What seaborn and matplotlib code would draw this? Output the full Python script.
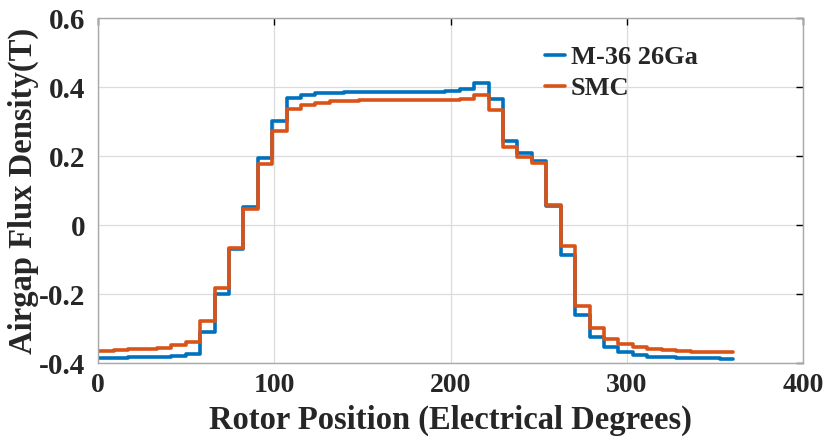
import numpy as np
import pandas as pd
import matplotlib
matplotlib.use("Agg")
import matplotlib.pyplot as plt
import seaborn as sns
from matplotlib.ticker import FuncFormatter

# Start angle of each slot-pitch step (electrical degrees); last entry closes the final step
angle = [0.0, 8.8, 17.0, 25.1, 33.3, 41.5, 49.7, 57.9, 66.1, 74.2, 82.4, 90.6,
         98.8, 107.0, 115.2, 123.4, 131.6, 139.8, 147.9, 156.1, 164.3, 172.5,
         180.7, 188.9, 197.1, 205.3, 213.5, 221.6, 229.8, 238.0, 246.2, 254.4,
         262.6, 270.8, 279.0, 287.2, 295.3, 303.5, 311.7, 319.9, 328.1, 336.3,
         344.5, 352.7, 360.0]

# Airgap flux density per step (T)
b_m36 = [-0.384, -0.384, -0.383, -0.382, -0.381, -0.378, -0.373, -0.310,
         -0.200, -0.070, 0.054, 0.196, 0.302, 0.369, 0.378, 0.383, 0.384,
         0.385, 0.385, 0.386, 0.386, 0.386, 0.387, 0.387, 0.390, 0.396,
         0.412, 0.365, 0.245, 0.209, 0.187, 0.055, -0.086, -0.260, -0.323,
         -0.352, -0.366, -0.376, -0.381, -0.383, -0.384, -0.385, -0.386,
         -0.388]
b_smc = [-0.364, -0.363, -0.360, -0.359, -0.355, -0.348, -0.338, -0.278,
         -0.181, -0.067, 0.047, 0.178, 0.273, 0.336, 0.349, 0.355, 0.359,
         0.361, 0.362, 0.362, 0.363, 0.363, 0.363, 0.363, 0.363, 0.366,
         0.378, 0.334, 0.228, 0.199, 0.180, 0.060, -0.061, -0.234, -0.297,
         -0.330, -0.345, -0.353, -0.359, -0.362, -0.364, -0.366, -0.367,
         -0.367]

series = {"M-36 26Ga": b_m36, "SMC": b_smc}
colors = {"M-36 26Ga": "#0072BD", "SMC": "#D95319"}

frames = []
for name, vals in series.items():
    # repeat the final value so the last step reaches 360 degrees
    frames.append(pd.DataFrame({"angle": angle, "B": list(vals) + [vals[-1]],
                                "material": name}))
df = pd.concat(frames, ignore_index=True)

sns.set_theme(style="white")
plt.rcParams["font.family"] = ["Liberation Serif", "DejaVu Serif"]
plt.rcParams["font.weight"] = "bold"

fig = plt.figure(figsize=(8.27, 4.43), dpi=100)
ax = fig.add_axes([0.1185, 0.18, 0.8525, 0.7787])

sns.lineplot(data=df, x="angle", y="B", hue="material", palette=colors,
             drawstyle="steps-post", linewidth=2.6, ax=ax, sort=False,
             estimator=None)

ax.set_xlim(0, 400)
ax.set_ylim(-0.4, 0.6)
ax.set_xticks([0, 100, 200, 300, 400])
ax.set_yticks([-0.4, -0.2, 0, 0.2, 0.4, 0.6])
ax.yaxis.set_major_formatter(FuncFormatter(lambda v, p: "0" if abs(v) < 1e-9 else f"{v:.1f}"))
ax.grid(True, color="#dcdcdc", linewidth=0.9)
for s in ax.spines.values():
    s.set_visible(True)
    s.set_color("#a8a8a8")
    s.set_linewidth(1.0)
ax.tick_params(direction="in", length=5, width=1.0, color="black",
               top=True, right=True)
ax.tick_params(axis="x", labelsize=20, pad=7)
ax.tick_params(axis="y", labelsize=21, pad=9)
for lab in ax.get_xticklabels() + ax.get_yticklabels():
    lab.set_fontweight("bold")

ax.set_xlabel("Rotor Position (Electrical Degrees)", fontsize=23.5,
              fontweight="bold", labelpad=5)
ax.set_ylabel("Airgap Flux Density(T)", fontsize=23.5, fontweight="bold")
ax.yaxis.set_label_coords(-0.083, 0.5)

leg = ax.legend(loc="upper left", bbox_to_anchor=(0.601, 0.99), frameon=False,
                handlelength=0.75, handletextpad=0.2, labelspacing=0.3,
                prop={"size": 19, "weight": "bold"})

fig.savefig("out.png", dpi=100)
